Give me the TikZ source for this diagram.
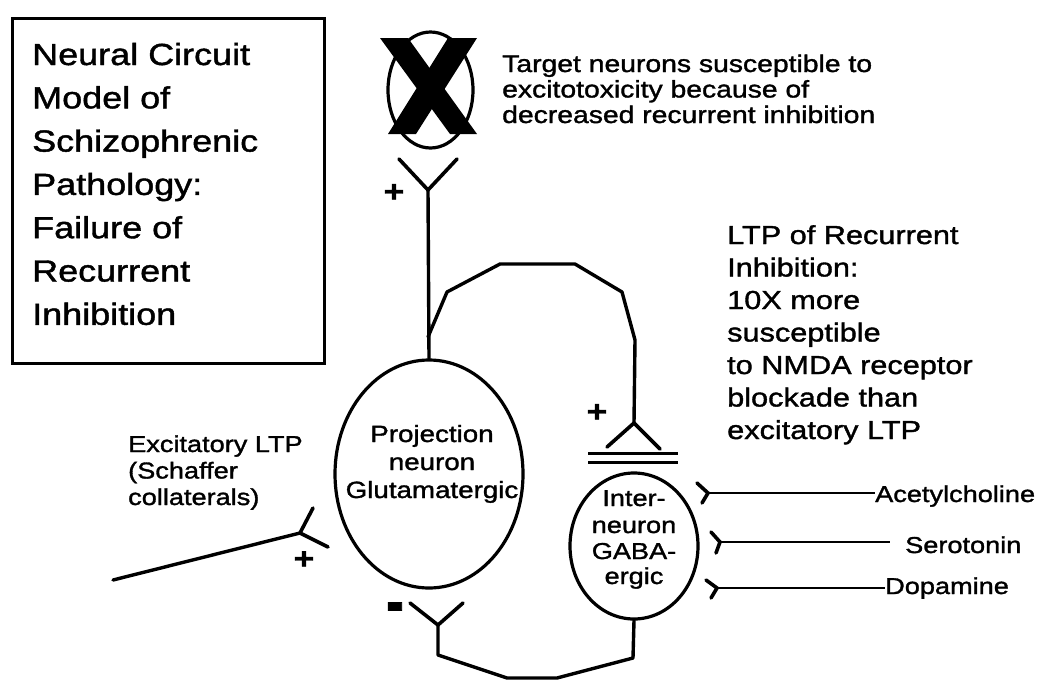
\documentclass[tikz,border=0pt]{standalone}
\usepackage{fontspec}
\setmainfont{Liberation Sans}[FakeStretch=1.18, FakeBold=1.4]
\usetikzlibrary{shapes.geometric}
\begin{document}
\begin{tikzpicture}[x=1pt,y=-1pt,
  wire/.style={line width=3.4pt, line join=round, line cap=round},
  fork/.style={line width=3.6pt, line cap=round},
  thinwire/.style={line width=1.9pt},
  cell/.style={draw, shape=ellipse, line width=3.2pt, inner sep=0pt},
  lbl/.style={inner sep=0pt, anchor=base west},
  titletxt/.style={lbl, font=\fontsize{30.5}{36}\selectfont},
  targettxt/.style={lbl, font=\fontsize{24}{28}\selectfont},
  ltptxt/.style={lbl, font=\fontsize{26}{30}\selectfont},
  smalltxt/.style={lbl, font=\fontsize{23}{27}\selectfont},
  celltxt/.style={inner sep=0pt, anchor=base, font=\fontsize{23.5}{27}\selectfont},
  sign/.style={inner sep=0pt, font=\fontsize{30}{30}\selectfont\bfseries}
]
\useasboundingbox (0,0) rectangle (1050,694);
\fill[white] (0,0) rectangle (1050,694);

% title box
\draw[line width=3pt] (12,18) rectangle (324,363);
\foreach \t [count=\i from 0] in {Neural Circuit, Model of, Schizophrenic, Pathology:, Failure of, Recurrent, Inhibition}
  \node[titletxt] (title\i) at (32, 65+43.3*\i) {\t};

% target neuron
\node[cell, minimum width=85pt, minimum height=116pt] (target) at (430.5,90) {};
\fill (380,38) -- (408,38) -- (477,134) -- (450,134) -- cycle;
\fill (448,38) -- (477,38) -- (416,134) -- (388,134) -- cycle;
\foreach \t [count=\i from 0] in {Target neurons susceptible to, excitotoxicity because of, decreased recurrent inhibition}
  \node[targettxt] (tgt\i) at (502, 72+25.5*\i) {\t};

% projection neuron
\node[cell, minimum width=188pt, minimum height=228pt] (proj) at (429,474) {};
\node[celltxt] (p0) at (432,442) {Projection};
\node[celltxt] (p1) at (432,470) {neuron};
\node[celltxt] (p2) at (432,498) {Glutamatergic};

% interneuron
\node[cell, minimum width=128pt, minimum height=146pt] (inter) at (634,546) {};
\node[celltxt, font=\fontsize{23}{27}\selectfont] (i0) at (634,506) {Inter-};
\node[celltxt, font=\fontsize{23}{27}\selectfont] (i1) at (634,533) {neuron};
\node[celltxt, font=\fontsize{23}{27}\selectfont] (i2) at (634,559) {GABA-};
\node[celltxt, font=\fontsize{23}{27}\selectfont] (i3) at (634,584) {ergic};

% top synapse onto target
\coordinate (topsyn) at (428,190);
\coordinate (tsl) at (399,159);
\coordinate (tsr) at (457,159);
\draw[fork] (tsl) -- (topsyn) -- (tsr);
\draw[wire] (topsyn) -- (proj.north);
\node[sign] (plus1) at (394,193) {+};

% recurrent collateral to interneuron
\coordinate (branch) at (428,337);
\coordinate (insyn) at (634,423);
\draw[wire] (branch) -- (447,292) -- (500,264) -- (575,264) -- (622,292) -- (635,340) -- (insyn);
\draw[fork] (607,447) -- (insyn) -- (660,449);
\draw[line width=3pt] (588,453) -- (678,453);
\draw[line width=3pt] (588,462) -- (678,462);
\node[sign] (plus2) at (597,413) {+};

% inhibitory feedback to projection neuron
\coordinate (msyn) at (438,625);
\draw[fork] (410,603) -- (msyn) -- (463,603);
\draw[wire] (msyn) -- (438,655) -- (507,678) -- (557,678) -- (633,658) -- (inter.south);
\node[sign] (minus) at (395,613) {\scalebox{1.5}[2.2]{-}};

% Schaffer collateral input
\coordinate (lstart) at (113,580);
\coordinate (lsyn) at (300,533);
\draw[wire] (lstart) -- (lsyn);
\draw[fork] (313,508) -- (lsyn) -- (328,547);
\node[sign] (plus3) at (304,560) {+};
\node[smalltxt] (exc0) at (128,452) {Excitatory LTP};
\node[smalltxt] (exc1) at (128,478.5) {(Schaffer};
\node[smalltxt] (exc2) at (128,505) {collaterals)};

% LTP text
\foreach \t [count=\i from 0] in {LTP of Recurrent, Inhibition:, 10X more, susceptible, to NMDA receptor, blockade than, excitatory LTP}
  \node[ltptxt] (ltp\i) at (727, 244+32.5*\i) {\t};

% modulatory inputs
\node[smalltxt] (ach) at (875,502) {Acetylcholine};
\node[smalltxt] (ser) at (905,553) {Serotonin};
\node[smalltxt] (dop) at (885,594) {Dopamine};
\coordinate (achf) at (708,493);
\coordinate (serf) at (720,542);
\coordinate (dopf) at (717,588);
\coordinate (serend) at (890,542);
\draw[thinwire] (achf) -- (achf -| ach.west);
\draw[thinwire] (serf) -- (serend);
\draw[thinwire] (dopf) -- (dopf -| dop.west);
\draw[fork] (697,483) -- (achf) -- (702,503);
\draw[fork] (711,532) -- (serf) -- (716,553);
\draw[fork] (706,580) -- (dopf) -- (711,598);
\end{tikzpicture}
\end{document}
